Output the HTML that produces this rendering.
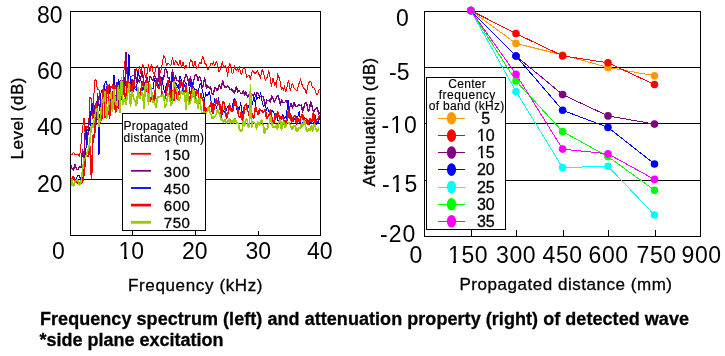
<!DOCTYPE html>
<html><head><meta charset="utf-8"><style>
html,body{margin:0;padding:0;background:#fff;}
svg{display:block;will-change:transform;}
text{font-family:"Liberation Sans",sans-serif;fill:#000;}
.ax{font-size:23px;}
.lab{font-size:17px;stroke:#000;stroke-width:0.3px;}
.labb{stroke:#000;stroke-width:0.35px;}
.cap{font-size:18px;font-weight:bold;stroke:#000;stroke-width:0.3px;}
.lg{font-size:16px;stroke:#000;stroke-width:0.3px;}
.sm{font-size:12px;stroke:#000;stroke-width:0.15px;}
.lg2{font-size:15px;letter-spacing:0.5px;stroke:#000;stroke-width:0.3px;}
</style></head><body>
<svg width="725" height="356" viewBox="0 0 725 356">
<rect x="0" y="0" width="725" height="356" fill="#fff"/>
<!-- LEFT PLOT -->
<g stroke="#000" stroke-width="1" fill="none" shape-rendering="crispEdges">
<line x1="70" y1="67" x2="320" y2="67"/>
<line x1="70" y1="123" x2="320" y2="123"/>
<line x1="70" y1="179" x2="320" y2="179"/>
<line x1="132.5" y1="231" x2="132.5" y2="235"/>
<line x1="195.5" y1="231" x2="195.5" y2="235"/>
<line x1="258.5" y1="231" x2="258.5" y2="235"/>
</g>
<polyline points="70.5,155.2 72.0,154.6 73.5,152.0 75.0,154.8 76.5,154.9 78.0,154.3 79.5,157.2 81.0,144.3 82.5,128.1 84.0,118.1 85.5,139.2 87.0,126.2 88.5,128.7 90.0,97.4 91.5,99.2 93.0,118.6 94.5,80.5 96.0,79.8 97.5,90.0 99.0,89.9 100.5,105.1 102.0,107.9 103.5,89.0 105.0,106.2 106.5,98.8 108.0,96.8 109.5,103.1 111.0,86.4 112.5,88.9 114.0,75.7 115.5,89.4 117.0,84.1 118.5,89.4 120.0,80.7 121.5,86.2 123.0,88.2 124.5,61.4 126.0,65.8 127.5,69.3 129.0,71.5 130.5,77.7 132.0,75.9 133.5,74.9 135.0,77.9 136.5,67.3 138.0,74.0 139.5,66.4 141.0,73.9 142.5,64.6 144.0,67.3 145.5,78.3 147.0,73.6 148.5,64.6 150.0,71.5 151.5,63.6 153.0,72.1 154.5,75.0 156.0,67.0 157.5,65.6 159.0,71.9 160.5,72.2 162.0,65.4 163.5,55.3 165.0,58.3 166.5,65.6 168.0,63.1 169.5,64.7 171.0,65.3 172.5,56.8 174.0,65.2 175.5,60.6 177.0,62.6 178.5,65.9 180.0,60.0 181.5,67.5 183.0,61.8 184.5,68.5 186.0,65.1 187.5,67.7 189.0,67.2 190.5,59.3 192.0,61.4 193.5,67.3 195.0,60.7 196.5,68.3 198.0,66.9 199.5,62.0 201.0,63.7 202.5,56.5 203.5,57.3 204.5,63.4 205.5,63.3 206.5,65.6 207.5,70.0 208.5,69.3 209.5,67.5 210.5,64.1 211.5,63.5 212.5,65.2 213.5,61.2 214.5,66.3 215.5,63.2 216.5,61.1 217.5,65.0 218.5,71.7 219.5,71.5 220.5,67.7 221.5,65.3 222.5,61.0 223.5,67.9 224.5,67.4 225.5,65.4 226.5,67.8 227.5,76.5 228.5,69.9 229.5,62.7 230.5,64.5 231.5,72.1 232.5,73.8 233.5,72.8 234.5,65.4 235.5,68.6 236.5,71.3 237.5,67.5 238.5,71.4 239.5,66.4 240.5,72.7 241.5,74.5 242.5,71.2 243.5,67.5 244.5,68.5 245.5,69.9 246.5,77.4 247.5,76.6 248.5,75.9 249.5,75.3 250.5,79.6 251.5,73.2 252.5,70.3 253.5,71.6 254.5,73.5 255.5,73.0 256.5,71.9 257.5,70.2 258.5,73.9 259.5,74.7 260.5,78.9 261.5,71.4 262.5,69.1 263.5,73.7 264.5,76.7 265.5,80.6 266.5,77.9 267.5,77.0 268.5,70.5 269.5,74.4 270.5,79.5 271.5,87.2 272.5,78.4 273.5,79.1 274.5,85.4 275.5,82.6 276.5,87.5 277.5,73.6 278.5,75.9 279.5,78.9 280.5,82.6 281.5,90.3 282.5,87.2 283.5,90.5 284.5,85.2 285.5,91.8 286.5,90.7 287.5,83.7 288.5,79.7 289.5,87.0 290.5,91.1 291.5,85.2 292.5,82.9 293.5,87.8 294.5,88.8 295.5,89.2 296.5,91.0 297.5,90.1 298.5,83.8 299.5,83.0 300.5,78.5 301.5,83.4 302.5,85.5 303.5,89.0 304.5,87.8 305.5,91.0 306.5,93.7 307.5,87.2 308.5,82.4 309.5,82.4 310.5,80.9 311.5,83.7 312.5,87.9 313.5,87.2 314.5,88.4 315.5,91.2 316.5,94.2 317.5,94.8 318.5,90.7 319.5,88.6" fill="none" stroke="#ff0000" stroke-width="1" stroke-linejoin="bevel" shape-rendering="crispEdges"/>
<polyline points="70.5,164.0 72.0,168.9 73.5,170.4 75.0,163.9 76.5,168.9 78.0,169.8 79.5,166.0 81.0,168.1 82.5,149.1 84.0,158.1 85.5,126.2 87.0,144.6 88.5,128.6 90.0,111.9 91.5,116.1 93.0,102.7 94.5,106.7 96.0,125.3 97.5,93.3 99.0,104.7 100.5,112.3 102.0,114.5 103.5,90.1 105.0,100.5 106.5,86.2 108.0,92.6 109.5,84.6 111.0,98.1 112.5,91.3 114.0,95.5 115.5,107.1 117.0,82.4 118.5,107.1 120.0,83.9 121.5,78.4 123.0,85.7 124.5,97.1 126.0,51.6 127.5,80.2 129.0,91.2 130.5,91.3 132.0,78.6 133.5,92.0 135.0,69.1 136.5,82.4 138.0,79.7 139.5,82.4 141.0,76.2 142.5,71.3 144.0,85.4 145.5,81.7 147.0,77.5 148.5,84.1 150.0,76.6 151.5,78.5 153.0,80.4 154.5,74.9 156.0,78.5 157.5,87.2 159.0,67.1 160.5,82.3 162.0,79.1 163.5,79.8 165.0,68.9 166.5,69.2 168.0,77.9 169.5,79.3 171.0,85.1 172.5,68.7 174.0,83.8 175.5,75.6 177.0,80.3 178.5,80.9 180.0,80.8 181.5,84.4 183.0,87.5 184.5,78.5 186.0,74.3 187.5,77.3 189.0,85.4 190.5,76.6 192.0,88.0 193.5,81.9 195.0,75.2 196.5,74.0 198.0,80.8 199.5,76.3 201.0,80.6 202.5,87.8 203.5,84.9 204.5,77.2 205.5,82.0 206.5,89.1 207.5,85.6 208.5,87.2 209.5,88.6 210.5,85.9 211.5,91.9 212.5,94.7 213.5,95.0 214.5,87.3 215.5,87.4 216.5,89.7 217.5,90.8 218.5,87.1 219.5,83.7 220.5,88.7 221.5,87.6 222.5,80.5 223.5,83.3 224.5,87.4 225.5,86.9 226.5,87.5 227.5,86.0 228.5,86.4 229.5,89.3 230.5,89.5 231.5,88.4 232.5,91.6 233.5,90.7 234.5,93.8 235.5,88.5 236.5,85.7 237.5,92.5 238.5,90.1 239.5,91.6 240.5,92.5 241.5,93.9 242.5,92.9 243.5,90.2 244.5,96.2 245.5,91.6 246.5,93.8 247.5,97.3 248.5,95.5 249.5,92.7 250.5,93.9 251.5,93.3 252.5,95.0 253.5,96.4 254.5,92.2 255.5,96.6 256.5,92.4 257.5,92.8 258.5,94.9 259.5,95.7 260.5,96.3 261.5,96.1 262.5,96.2 263.5,96.7 264.5,102.6 265.5,105.7 266.5,99.6 267.5,100.3 268.5,100.6 269.5,99.7 270.5,102.4 271.5,95.6 272.5,97.8 273.5,99.4 274.5,102.9 275.5,98.6 276.5,97.6 277.5,95.0 278.5,96.0 279.5,101.8 280.5,105.5 281.5,99.2 282.5,102.8 283.5,102.7 284.5,102.9 285.5,101.1 286.5,100.3 287.5,104.8 288.5,105.6 289.5,109.2 290.5,103.9 291.5,104.0 292.5,108.7 293.5,102.6 294.5,103.2 295.5,106.7 296.5,106.3 297.5,106.8 298.5,105.0 299.5,104.1 300.5,106.2 301.5,104.2 302.5,112.5 303.5,109.2 304.5,105.1 305.5,102.7 306.5,102.3 307.5,107.7 308.5,111.9 309.5,109.8 310.5,101.3 311.5,104.0 312.5,108.1 313.5,112.7 314.5,109.3 315.5,109.8 316.5,107.3 317.5,107.4 318.5,114.9 319.5,111.6" fill="none" stroke="#800080" stroke-width="1.3" stroke-linejoin="bevel" shape-rendering="crispEdges"/>
<polyline points="70.5,178.4 72.0,177.9 73.5,176.3 75.0,180.5 76.5,177.9 78.0,175.6 79.5,175.4 81.0,181.7 82.5,177.7 84.0,168.5 85.5,158.0 87.0,128.6 88.5,132.3 90.0,127.0 91.5,103.7 93.0,110.2 94.5,116.1 96.0,109.6 97.5,101.7 99.0,154.9 100.5,94.1 102.0,90.1 103.5,99.7 105.0,82.7 106.5,81.1 108.0,93.5 109.5,87.1 111.0,106.4 112.5,105.5 114.0,75.1 115.5,103.8 117.0,102.5 118.5,79.3 120.0,84.4 121.5,100.1 123.0,86.4 124.5,87.2 126.0,84.2 127.5,92.6 129.0,54.4 130.5,85.8 132.0,82.5 133.5,88.1 135.0,89.0 136.5,90.7 138.0,71.3 139.5,77.5 141.0,80.9 142.5,90.5 144.0,88.6 145.5,89.7 147.0,85.2 148.5,91.8 150.0,86.1 151.5,88.7 153.0,88.7 154.5,78.4 156.0,84.2 157.5,83.3 159.0,86.1 160.5,81.9 162.0,76.9 163.5,88.2 165.0,92.6 166.5,83.2 168.0,86.3 169.5,77.3 171.0,92.9 172.5,75.1 174.0,95.3 175.5,82.6 177.0,85.6 178.5,88.4 180.0,75.8 181.5,80.5 183.0,92.2 184.5,84.7 186.0,82.5 187.5,95.2 189.0,93.9 190.5,83.2 192.0,81.6 193.5,88.0 195.0,89.7 196.5,89.0 198.0,94.2 199.5,85.0 201.0,83.5 202.5,92.2 203.5,93.5 204.5,102.1 205.5,92.4 206.5,96.1 207.5,95.0 208.5,94.2 209.5,90.9 210.5,98.8 211.5,102.2 212.5,106.5 213.5,108.4 214.5,98.2 215.5,102.8 216.5,109.4 217.5,103.5 218.5,97.4 219.5,105.1 220.5,105.1 221.5,110.1 222.5,114.6 223.5,110.0 224.5,112.0 225.5,113.0 226.5,109.3 227.5,106.7 228.5,108.0 229.5,103.4 230.5,108.7 231.5,109.9 232.5,106.3 233.5,100.1 234.5,98.7 235.5,102.2 236.5,106.7 237.5,114.0 238.5,107.1 239.5,110.1 240.5,102.5 241.5,107.0 242.5,115.7 243.5,107.9 244.5,107.9 245.5,110.1 246.5,108.1 247.5,107.6 248.5,105.6 249.5,111.1 250.5,106.1 251.5,101.8 252.5,105.2 253.5,96.7 254.5,98.2 255.5,105.6 256.5,95.5 257.5,98.3 258.5,97.8 259.5,98.3 260.5,91.9 261.5,97.6 262.5,103.5 263.5,106.9 264.5,105.0 265.5,105.3 266.5,110.4 267.5,106.9 268.5,111.5 269.5,110.8 270.5,109.5 271.5,110.3 272.5,111.0 273.5,111.6 274.5,114.9 275.5,114.1 276.5,113.7 277.5,119.4 278.5,122.6 279.5,118.3 280.5,117.9 281.5,117.0 282.5,114.8 283.5,115.2 284.5,118.6 285.5,116.4 286.5,119.8 287.5,100.6 288.5,100.6 289.5,116.2 290.5,119.9 291.5,117.6 292.5,119.0 293.5,121.6 294.5,118.4 295.5,118.7 296.5,116.3 297.5,118.9 298.5,113.0 299.5,111.4 300.5,121.9 301.5,127.6 302.5,126.3 303.5,117.7 304.5,117.2 305.5,118.8 306.5,119.0 307.5,124.1 308.5,121.6 309.5,124.6 310.5,121.8 311.5,122.6 312.5,123.5 313.5,124.0 314.5,120.6 315.5,115.0 316.5,124.7 317.5,120.7 318.5,122.8 319.5,117.4" fill="none" stroke="#0000ff" stroke-width="1" stroke-linejoin="bevel" shape-rendering="crispEdges"/>
<polyline points="70.5,179.7 72.0,178.8 73.5,176.0 75.0,181.3 76.5,181.5 78.0,183.1 79.5,182.4 81.0,183.3 82.5,182.0 84.0,175.0 85.5,157.2 87.0,156.1 88.5,156.1 90.0,145.7 91.5,179.0 93.0,134.8 94.5,137.7 96.0,103.2 97.5,109.7 99.0,124.0 100.5,120.7 102.0,118.3 103.5,85.0 105.0,118.3 106.5,95.0 108.0,84.6 109.5,118.8 111.0,101.2 112.5,99.9 114.0,85.1 115.5,113.0 117.0,106.6 118.5,107.1 120.0,110.5 121.5,85.3 123.0,81.7 124.5,91.4 126.0,100.9 127.5,78.5 129.0,83.0 130.5,85.5 132.0,94.5 133.5,79.8 135.0,87.6 136.5,87.3 138.0,88.7 139.5,96.5 141.0,89.5 142.5,81.7 144.0,85.7 145.5,94.0 147.0,80.4 148.5,81.7 150.0,102.3 151.5,96.7 153.0,95.7 154.5,101.3 156.0,81.5 157.5,86.4 159.0,88.6 160.5,76.7 162.0,94.3 163.5,96.7 165.0,98.8 166.5,92.8 168.0,80.4 169.5,87.3 171.0,100.9 172.5,90.4 174.0,100.9 175.5,85.6 177.0,99.3 178.5,97.1 180.0,85.4 181.5,81.0 183.0,86.6 184.5,94.7 186.0,85.6 187.5,95.3 189.0,101.8 190.5,95.5 192.0,87.1 193.5,90.5 195.0,102.4 196.5,89.9 198.0,91.3 199.5,103.8 201.0,93.6 202.5,100.2 203.5,99.4 204.5,113.5 205.5,107.2 206.5,110.1 207.5,109.8 208.5,110.1 209.5,106.1 210.5,106.5 211.5,100.7 212.5,114.1 213.5,112.0 214.5,104.8 215.5,103.7 216.5,98.6 217.5,105.6 218.5,101.6 219.5,102.4 220.5,111.3 221.5,117.5 222.5,102.9 223.5,100.9 224.5,104.9 225.5,111.0 226.5,118.4 227.5,114.8 228.5,111.4 229.5,103.3 230.5,109.2 231.5,110.8 232.5,111.6 233.5,106.6 234.5,102.5 235.5,99.6 236.5,107.2 237.5,107.1 238.5,115.3 239.5,117.3 240.5,116.6 241.5,110.8 242.5,122.4 243.5,116.7 244.5,105.6 245.5,105.3 246.5,103.6 247.5,112.0 248.5,111.2 249.5,116.7 250.5,107.2 251.5,112.6 252.5,114.9 253.5,118.5 254.5,114.0 255.5,106.6 256.5,110.6 257.5,112.6 258.5,115.1 259.5,108.7 260.5,110.9 261.5,110.2 262.5,112.1 263.5,112.6 264.5,110.3 265.5,109.7 266.5,119.2 267.5,116.7 268.5,116.6 269.5,113.7 270.5,109.2 271.5,116.2 272.5,119.1 273.5,123.6 274.5,122.0 275.5,113.3 276.5,118.2 277.5,111.6 278.5,114.7 279.5,117.1 280.5,116.9 281.5,119.7 282.5,117.0 283.5,117.7 284.5,126.4 285.5,125.2 286.5,119.2 287.5,120.4 288.5,109.0 289.5,119.0 290.5,113.1 291.5,122.5 292.5,120.8 293.5,116.6 294.5,116.4 295.5,115.6 296.5,124.6 297.5,117.3 298.5,120.3 299.5,122.3 300.5,118.7 301.5,115.1 302.5,114.1 303.5,120.8 304.5,118.6 305.5,125.9 306.5,118.6 307.5,123.0 308.5,124.7 309.5,118.5 310.5,118.3 311.5,122.7 312.5,118.2 313.5,111.6 314.5,122.9 315.5,120.5 316.5,119.7 317.5,118.9 318.5,118.9 319.5,115.2" fill="none" stroke="#ff0000" stroke-width="1.6" stroke-linejoin="bevel" shape-rendering="crispEdges"/>
<polyline points="70.5,187.5 72.0,179.6 73.5,186.5 75.0,181.4 76.5,179.7 78.0,180.6 79.5,185.5 81.0,182.4 82.5,171.0 84.0,158.9 85.5,158.1 87.0,152.8 88.5,149.0 90.0,141.1 91.5,124.0 93.0,127.8 94.5,118.5 96.0,110.1 97.5,108.4 99.0,127.4 100.5,117.0 102.0,99.0 103.5,103.5 105.0,91.4 106.5,119.1 108.0,109.0 109.5,100.1 111.0,92.1 112.5,112.4 114.0,88.7 115.5,104.5 117.0,105.4 118.5,85.1 120.0,113.0 121.5,76.9 123.0,105.3 124.5,98.0 126.0,104.9 127.5,94.2 129.0,83.5 130.5,106.5 132.0,91.2 133.5,97.7 135.0,101.1 136.5,106.2 138.0,86.9 139.5,99.3 141.0,95.6 142.5,91.9 144.0,108.5 145.5,83.3 147.0,84.6 148.5,104.7 150.0,84.2 151.5,90.6 153.0,102.5 154.5,102.0 156.0,108.0 157.5,97.0 159.0,97.1 160.5,96.0 162.0,96.3 163.5,94.2 165.0,107.5 166.5,103.3 168.0,93.5 169.5,96.9 171.0,105.8 172.5,102.1 174.0,81.2 175.5,87.9 177.0,89.7 178.5,100.8 180.0,98.4 181.5,90.1 183.0,94.6 184.5,92.2 186.0,110.0 187.5,89.9 189.0,105.2 190.5,101.6 192.0,97.2 193.5,87.7 195.0,102.9 196.5,98.6 198.0,109.0 199.5,96.7 201.0,108.5 202.5,116.2 203.5,111.9 204.5,111.1 205.5,114.7 206.5,111.8 207.5,111.5 208.5,106.4 209.5,110.2 210.5,113.9 211.5,115.0 212.5,119.3 213.5,115.9 214.5,117.1 215.5,115.6 216.5,114.0 217.5,109.5 218.5,113.6 219.5,112.9 220.5,117.3 221.5,120.9 222.5,118.8 223.5,123.2 224.5,119.3 225.5,120.8 226.5,123.7 227.5,120.8 228.5,121.7 229.5,118.3 230.5,123.6 231.5,121.4 232.5,120.1 233.5,124.0 234.5,118.4 235.5,119.6 236.5,122.8 237.5,123.3 238.5,123.8 239.5,129.7 240.5,130.1 241.5,131.8 242.5,128.1 243.5,119.6 244.5,126.6 245.5,120.3 246.5,118.4 247.5,121.8 248.5,127.7 249.5,122.9 250.5,83.8 251.5,127.6 252.5,122.6 253.5,121.6 254.5,122.9 255.5,123.7 256.5,129.4 257.5,121.8 258.5,123.1 259.5,125.4 260.5,121.3 261.5,119.5 262.5,123.9 263.5,125.6 264.5,134.3 265.5,129.2 266.5,128.6 267.5,129.4 268.5,123.4 269.5,123.0 270.5,116.4 271.5,120.7 272.5,127.8 273.5,127.0 274.5,126.8 275.5,127.2 276.5,124.6 277.5,130.1 278.5,122.0 279.5,122.0 280.5,118.8 281.5,130.6 282.5,122.8 283.5,121.6 284.5,124.4 285.5,128.3 286.5,123.6 287.5,123.5 288.5,122.2 289.5,123.7 290.5,124.7 291.5,129.0 292.5,129.5 293.5,125.4 294.5,125.7 295.5,125.9 296.5,131.8 297.5,131.2 298.5,127.5 299.5,127.5 300.5,129.2 301.5,123.0 302.5,126.9 303.5,122.4 304.5,120.1 305.5,126.6 306.5,130.5 307.5,132.0 308.5,128.3 309.5,129.1 310.5,130.6 311.5,124.8 312.5,131.4 313.5,128.4 314.5,123.5 315.5,126.7 316.5,131.2 317.5,131.5 318.5,128.1 319.5,128.5" fill="none" stroke="#99cc00" stroke-width="1.6" stroke-linejoin="bevel" shape-rendering="crispEdges"/>
<rect x="70.5" y="11.5" width="250" height="224" fill="none" stroke="#000" stroke-width="1" shape-rendering="crispEdges"/>
<rect x="122.5" y="113.5" width="83" height="117" fill="#fff" stroke="#000" stroke-width="1" shape-rendering="crispEdges"/>
<text x="123.5" y="129.6" class="sm" textLength="64.5">Propagated</text>
<text x="123.5" y="142" class="sm" textLength="80.5">distance (mm)</text>
<line x1="131" y1="153.8" x2="151" y2="153.8" stroke="#ff0000" stroke-width="1.8"/>
<text x="163.8" y="159.7" class="lg2">150</text>
<line x1="131" y1="170.8" x2="151" y2="170.8" stroke="#800080" stroke-width="1.8"/>
<text x="163.8" y="176.7" class="lg2">300</text>
<line x1="131" y1="188.0" x2="151" y2="188.0" stroke="#0000ff" stroke-width="1.8"/>
<text x="163.8" y="193.9" class="lg2">450</text>
<line x1="131" y1="205.1" x2="151" y2="205.1" stroke="#ff0000" stroke-width="2.7"/>
<text x="163.8" y="211.0" class="lg2">600</text>
<line x1="131" y1="222.3" x2="151" y2="222.3" stroke="#99cc00" stroke-width="2.9"/>
<text x="163.8" y="228.2" class="lg2">750</text>
<text x="37" y="22.5" class="ax">80</text>
<text x="37" y="78.8" class="ax">60</text>
<text x="37" y="134.7" class="ax">40</text>
<text x="37" y="191.7" class="ax">20</text>
<text x="52" y="259" class="ax">0</text>
<text x="118.5" y="258.5" class="ax">10</text>
<text x="182" y="258.5" class="ax">20</text>
<text x="245.5" y="258.5" class="ax">30</text>
<text x="307" y="258.5" class="ax">40</text>
<text transform="translate(22.7,159.5) rotate(-90)" class="lab labb" textLength="82">Level (dB)</text>
<text x="128" y="291" class="lab" textLength="134.5">Frequency (kHz)</text>

<!-- RIGHT PLOT -->
<g stroke="#000" stroke-width="1" fill="none" shape-rendering="crispEdges">
<line x1="425" y1="67" x2="700" y2="67"/>
<line x1="425" y1="123" x2="700" y2="123"/>
<line x1="425" y1="180" x2="700" y2="180"/>
<line x1="471.5" y1="230" x2="471.5" y2="236"/>
<line x1="516.5" y1="230" x2="516.5" y2="236"/>
<line x1="563.5" y1="230" x2="563.5" y2="236"/>
<line x1="608.5" y1="230" x2="608.5" y2="236"/>
<line x1="655.5" y1="230" x2="655.5" y2="236"/>
</g>
<rect x="424.5" y="11.5" width="276" height="225" fill="none" stroke="#000" stroke-width="1" shape-rendering="crispEdges"/>
<polyline points="470.8,10.6 516.0,43.4 562.6,55.0 608.0,67.4 654.5,75.7" fill="none" stroke="#ff9900" stroke-width="1" shape-rendering="crispEdges"/>
<circle cx="470.8" cy="10.6" r="3.8" fill="#ff9900"/>
<circle cx="516.0" cy="43.4" r="3.8" fill="#ff9900"/>
<circle cx="562.6" cy="55.0" r="3.8" fill="#ff9900"/>
<circle cx="608.0" cy="67.4" r="3.8" fill="#ff9900"/>
<circle cx="654.5" cy="75.7" r="3.8" fill="#ff9900"/>
<polyline points="470.8,10.6 516.0,33.5 562.6,55.9 608.0,62.8 654.5,84.5" fill="none" stroke="#ff0000" stroke-width="1" shape-rendering="crispEdges"/>
<circle cx="470.8" cy="10.6" r="3.8" fill="#ff0000"/>
<circle cx="516.0" cy="33.5" r="3.8" fill="#ff0000"/>
<circle cx="562.6" cy="55.9" r="3.8" fill="#ff0000"/>
<circle cx="608.0" cy="62.8" r="3.8" fill="#ff0000"/>
<circle cx="654.5" cy="84.5" r="3.8" fill="#ff0000"/>
<polyline points="470.8,10.6 516.0,56.0 562.6,94.6 608.0,115.9 654.5,124.1" fill="none" stroke="#800080" stroke-width="1" shape-rendering="crispEdges"/>
<circle cx="470.8" cy="10.6" r="3.8" fill="#800080"/>
<circle cx="516.0" cy="56.0" r="3.8" fill="#800080"/>
<circle cx="562.6" cy="94.6" r="3.8" fill="#800080"/>
<circle cx="608.0" cy="115.9" r="3.8" fill="#800080"/>
<circle cx="654.5" cy="124.1" r="3.8" fill="#800080"/>
<polyline points="470.8,10.6 516.0,56.0 562.6,110.3 608.0,127.4 654.5,164.0" fill="none" stroke="#0000ff" stroke-width="1" shape-rendering="crispEdges"/>
<circle cx="470.8" cy="10.6" r="3.8" fill="#0000ff"/>
<circle cx="516.0" cy="56.0" r="3.8" fill="#0000ff"/>
<circle cx="562.6" cy="110.3" r="3.8" fill="#0000ff"/>
<circle cx="608.0" cy="127.4" r="3.8" fill="#0000ff"/>
<circle cx="654.5" cy="164.0" r="3.8" fill="#0000ff"/>
<polyline points="470.8,10.6 516.0,91.5 562.6,167.6 608.0,166.2 654.5,215.0" fill="none" stroke="#00ffff" stroke-width="1" shape-rendering="crispEdges"/>
<circle cx="470.8" cy="10.6" r="3.8" fill="#00ffff"/>
<circle cx="516.0" cy="91.5" r="3.8" fill="#00ffff"/>
<circle cx="562.6" cy="167.6" r="3.8" fill="#00ffff"/>
<circle cx="608.0" cy="166.2" r="3.8" fill="#00ffff"/>
<circle cx="654.5" cy="215.0" r="3.8" fill="#00ffff"/>
<polyline points="470.8,10.6 516.0,81.0 562.6,131.6 608.0,156.6 654.5,190.2" fill="none" stroke="#00ff00" stroke-width="1" shape-rendering="crispEdges"/>
<circle cx="470.8" cy="10.6" r="3.8" fill="#00ff00"/>
<circle cx="516.0" cy="81.0" r="3.8" fill="#00ff00"/>
<circle cx="562.6" cy="131.6" r="3.8" fill="#00ff00"/>
<circle cx="608.0" cy="156.6" r="3.8" fill="#00ff00"/>
<circle cx="654.5" cy="190.2" r="3.8" fill="#00ff00"/>
<polyline points="470.8,10.6 516.0,74.2 562.6,149.1 608.0,153.8 654.5,179.4" fill="none" stroke="#ff00ff" stroke-width="1" shape-rendering="crispEdges"/>
<circle cx="470.8" cy="10.6" r="3.8" fill="#ff00ff"/>
<circle cx="516.0" cy="74.2" r="3.8" fill="#ff00ff"/>
<circle cx="562.6" cy="149.1" r="3.8" fill="#ff00ff"/>
<circle cx="608.0" cy="153.8" r="3.8" fill="#ff00ff"/>
<circle cx="654.5" cy="179.4" r="3.8" fill="#ff00ff"/>
<rect x="426.5" y="77.5" width="79" height="151.5" fill="#fff" stroke="#000" stroke-width="1" shape-rendering="crispEdges"/>
<text x="467" y="88.4" class="sm" text-anchor="middle" textLength="37.5">Center</text>
<text x="467" y="99.4" class="sm" text-anchor="middle" textLength="56.5">frequency</text>
<text x="466.5" y="110" class="sm" text-anchor="middle" textLength="75.5">of band (kHz)</text>
<line x1="438" y1="118.3" x2="465" y2="118.3" stroke="#ff9900" stroke-width="1" shape-rendering="crispEdges"/>
<ellipse cx="451.5" cy="118.3" rx="4.6" ry="6.3" fill="#ff9900"/>
<text x="485.8" y="124.0" text-anchor="middle" class="lg">5</text>
<line x1="438" y1="135.6" x2="465" y2="135.6" stroke="#ff0000" stroke-width="1" shape-rendering="crispEdges"/>
<ellipse cx="451.5" cy="135.6" rx="4.6" ry="6.3" fill="#ff0000"/>
<text x="485.8" y="141.3" text-anchor="middle" class="lg">10</text>
<line x1="438" y1="152.5" x2="465" y2="152.5" stroke="#800080" stroke-width="1" shape-rendering="crispEdges"/>
<ellipse cx="451.5" cy="152.5" rx="4.6" ry="6.3" fill="#800080"/>
<text x="485.8" y="158.2" text-anchor="middle" class="lg">15</text>
<line x1="438" y1="169.6" x2="465" y2="169.6" stroke="#0000ff" stroke-width="1" shape-rendering="crispEdges"/>
<ellipse cx="451.5" cy="169.6" rx="4.6" ry="6.3" fill="#0000ff"/>
<text x="485.8" y="175.3" text-anchor="middle" class="lg">20</text>
<line x1="438" y1="187.0" x2="465" y2="187.0" stroke="#00ffff" stroke-width="1" shape-rendering="crispEdges"/>
<ellipse cx="451.5" cy="187.0" rx="4.6" ry="6.3" fill="#00ffff"/>
<text x="485.8" y="192.7" text-anchor="middle" class="lg">25</text>
<line x1="438" y1="204.2" x2="465" y2="204.2" stroke="#00ff00" stroke-width="1" shape-rendering="crispEdges"/>
<ellipse cx="451.5" cy="204.2" rx="4.6" ry="6.3" fill="#00ff00"/>
<text x="485.8" y="209.9" text-anchor="middle" class="lg">30</text>
<line x1="438" y1="221.3" x2="465" y2="221.3" stroke="#ff00ff" stroke-width="1" shape-rendering="crispEdges"/>
<ellipse cx="451.5" cy="221.3" rx="4.6" ry="6.3" fill="#ff00ff"/>
<text x="485.8" y="227.0" text-anchor="middle" class="lg">35</text>
<text x="396" y="25.6" class="ax">0</text>
<text x="389" y="79.5" class="ax">-5</text>
<text x="381.5" y="132.5" class="ax" letter-spacing="1">-10</text>
<text x="382" y="192.2" class="ax" letter-spacing="1">-15</text>
<text x="380" y="241.7" class="ax" letter-spacing="1">-20</text>
<text x="409.5" y="262.5" class="ax">0</text>
<text x="448.0" y="262.8" class="ax" letter-spacing="0.6">150</text>
<text x="496.0" y="262.8" class="ax" letter-spacing="0.6">300</text>
<text x="542.5" y="262.8" class="ax" letter-spacing="0.6">450</text>
<text x="588.5" y="262.8" class="ax" letter-spacing="0.6">600</text>
<text x="636.5" y="262.8" class="ax" letter-spacing="0.6">750</text>
<text x="681.5" y="262.8" class="ax" letter-spacing="0.6">900</text>
<text transform="translate(375.2,186.4) rotate(-90)" class="lab labb" textLength="128.5">Attenuation (dB)</text>
<text x="459.5" y="290.3" class="lab" textLength="212.5">Propagated distance (mm)</text>

<g fill="#fff" shape-rendering="crispEdges">
<rect x="119" y="257" width="5" height="2"/><rect x="127" y="257" width="4" height="2"/>
<rect x="449" y="261" width="4" height="2"/><rect x="456" y="261" width="5" height="2"/>
<rect x="391" y="131" width="5" height="2"/><rect x="398" y="131" width="5" height="2"/>
<rect x="391" y="190" width="5" height="2"/><rect x="399" y="190" width="5" height="2"/>
<rect x="163" y="158" width="4" height="3"/><rect x="169" y="158" width="4" height="3"/>
<rect x="477" y="139" width="4" height="3"/><rect x="483" y="139" width="4" height="3"/>
<rect x="477" y="156" width="4" height="3"/><rect x="483" y="156" width="4" height="3"/>
</g>
<!-- CAPTION -->
<text x="40" y="324.7" class="cap" textLength="649">Frequency spectrum (left) and attenuation property (right) of detected wave</text>
<text x="39.5" y="346.4" class="cap">*side plane excitation</text>
</svg>
</body></html>
